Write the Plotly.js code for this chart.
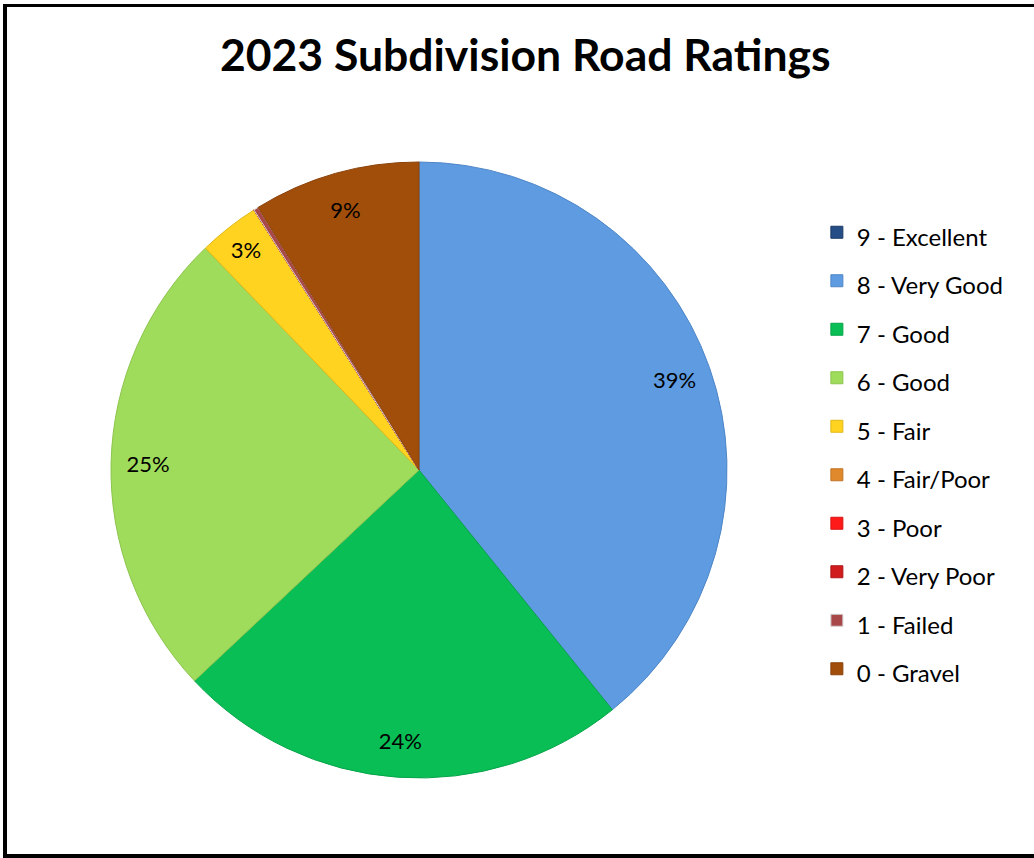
<!DOCTYPE html>
<html>
<head>
<meta charset="utf-8">
<script src="https://cdn.plot.ly/plotly-3.0.1.min.js"></script>
<style>
  html, body { margin: 0; padding: 0; background: #fff; }
  #wrap { position: relative; width: 1034px; height: 858px; overflow: hidden; }
  #chart { position: absolute; left: 0; top: 0; width: 1034px; height: 858px; }
  #frame { position: absolute; left: 3px; top: 4px; width: 1040px; height: 854px;
           border-left: 4px solid #000; border-top: 3px solid #000; border-bottom: 4px solid #000;
           box-sizing: border-box; pointer-events: none; }
</style>
</head>
<body>
<div id="wrap">
  <div id="chart"></div>
  <div id="frame"></div>
</div>
<script>
// Categories (legend order, also slice order clockwise from 12 o'clock)
const categories = ["9 - Excellent", "8 - Very Good", "7 - Good", "6 - Good", "5 - Fair",
                    "4 - Fair/Poor", "3 - Poor", "2 - Very Poor", "1 - Failed", "0 - Gravel"];
// Share of subdivision roads (percent)
const shares = [0, 39.2, 23.8, 24.8, 3.2, 0, 0, 0, 0.25, 8.75];
// Data labels shown on the slices
const sliceLabels = ["", "39%", "24%", "25%", "3%", "", "", "", "", "9%"];
const colors = ["#264E86", "#5E9BE1", "#08BE55", "#A0DC5B", "#FFD320",
                "#E0892C", "#FF1A1A", "#D01C1C", "#A84848", "#A24E0B"];
const lineColors = ["#1B3A66", "#4F86C6", "#07A449", "#8CC44E", "#E0B818",
                    "#C07424", "#D81414", "#B01616", "#D4D4D4", "#8A420A"];

const FONT = "Lato, 'Open Sans', sans-serif";
const pieDomain = { x: [(419 - 308) / 1034, (419 + 308) / 1034], y: [(388 - 308) / 858, (388 + 308) / 858] };

const pieTrace = {
  type: "pie",
  labels: categories.map(c => '<span style="font-size:24px">' + c + '</span>'),
  values: shares,
  textinfo: "none",
  sort: false,
  direction: "clockwise",
  rotation: 0,
  marker: { colors: colors, line: { color: lineColors, width: 1 } },
  domain: pieDomain,
  hoverinfo: "label+percent"
};

// Transparent ring trace that only carries the data labels, so they sit near the rim
const labelTrace = {
  type: "pie",
  labels: categories.map(c => '<span style="font-size:24px">' + c + '</span>'),
  values: shares,
  hole: 0.76,
  text: sliceLabels,
  texttemplate: "%{text}",
  textposition: "inside",
  insidetextorientation: "horizontal",
  textfont: { family: FONT, size: 22, color: "#000" },
  sort: false,
  direction: "clockwise",
  rotation: 0,
  marker: { colors: categories.map(() => "rgba(0,0,0,0)"), line: { width: 0 } },
  domain: pieDomain,
  showlegend: false,
  hoverinfo: "skip"
};

const layout = {
  width: 1034, height: 858,
  margin: { l: 0, r: 0, t: 0, b: 0 },
  paper_bgcolor: "#fff",
  title: {
    text: "<b>2023 Subdivision Road Ratings</b>",
    font: { family: FONT, size: 44.5, color: "#000" },
    x: 0.508, xanchor: "center", y: 1 - 55 / 858, yanchor: "middle", yref: "container"
  },
  showlegend: true,
  legend: {
    x: 0.79, xanchor: "left", y: 1 - 203 / 858, yanchor: "top",
    font: { family: FONT, size: 35, color: "#000" },
    bgcolor: "rgba(0,0,0,0)", traceorder: "normal"
  }
};

Plotly.newPlot("chart", [pieTrace, labelTrace], layout, { displayModeBar: false, staticPlot: true });
</script>
</body>
</html>
